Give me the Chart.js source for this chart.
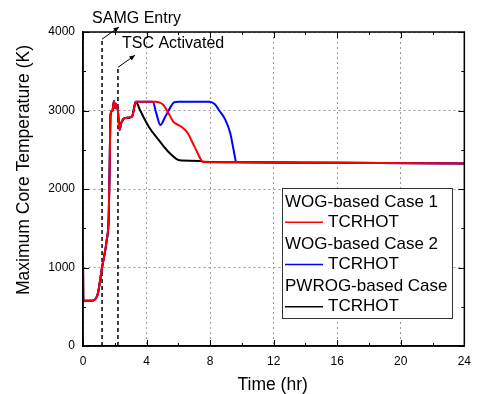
<!DOCTYPE html>
<html>
<head>
<meta charset="utf-8">
<script src="https://cdn.jsdelivr.net/npm/chart.js@4"></script>
<style>
html,body{margin:0;padding:0;background:#fff;}
#wrap{width:479px;height:394px;position:relative;}
</style>
</head>
<body>
<div id="wrap"><canvas id="c" width="479" height="394"></canvas></div>
<script>
// ---- data ----
const earlyTime = [0, 0.02, 0.55, 0.9, 1.2, 1.5, 1.62, 1.68, 1.72, 1.78, 1.85, 1.95, 2.03, 2.09, 2.19, 2.3, 2.4, 2.54, 2.7, 2.91, 3.11, 3.32];
const earlyTemp = [1100, 577, 577, 641, 1000, 1360, 1650, 2300, 2900, 2990, 2994, 3121, 3028, 3079, 3007, 2752, 2837, 2892, 2905, 2909, 2934, 3112];

const case1Time = [4.0, 4.6, 4.76, 5.06, 5.4, 5.68, 6.0, 6.19, 6.6, 6.91, 7.22, 7.46, 7.6, 10, 16, 24];
const case1Temp = [3112, 3110, 3105, 3070, 2960, 2858, 2815, 2794, 2710, 2582, 2455, 2361, 2345, 2340, 2333, 2325];

const case2Time = [4.39, 4.62, 4.86, 5.2, 5.5, 5.74, 6.0, 7.94, 8.3, 8.55, 8.96, 9.27, 9.48, 9.64, 10, 16, 24];
const case2Temp = [3110, 2960, 2816, 2930, 3040, 3105, 3110, 3110, 3080, 3007, 2880, 2710, 2497, 2348, 2342, 2333, 2325];

const pwrogTime = [3.6, 4.14, 4.76, 5.37, 5.99, 6.2, 7.4, 7.6, 10, 16, 24];
const pwrogTemp = [3000, 2794, 2625, 2475, 2370, 2362, 2358, 2346, 2340, 2333, 2325];

const eventTimes = [1.2, 2.2];
const eventTops = [3910, 3550];
const eventLabels = ['SAMG Entry', 'TSC Activated'];

const legendHeaders = ['WOG-based Case 1', 'WOG-based Case 2', 'PWROG-based Case'];
const legendSeries = ['TCRHOT', 'TCRHOT', 'TCRHOT'];
const seriesColors = ['#ff0000', '#0000ff', '#000000'];

const xTicks = [0, 4, 8, 12, 16, 20, 24];
const yTicks = [0, 1000, 2000, 3000, 4000];
const xTitle = 'Time (hr)';
const yTitle = 'Maximum Core Temperature (K)';

function pts(t, v) { return t.map((x, i) => ({x: x, y: v[i]})); }
const redPts = pts(earlyTime.concat(case1Time), earlyTemp.concat(case1Temp));
const bluePts = pts(earlyTime.concat(case2Time), earlyTemp.concat(case2Temp));
const blackPts = pts(earlyTime.concat(pwrogTime), earlyTemp.concat(pwrogTemp));

const FONT = 'Arial, "Liberation Sans", sans-serif';

const framePlugin = {
  id: 'frame',
  afterDraw(chart) {
    const ctx = chart.ctx, a = chart.chartArea;
    const xs = chart.scales.x, ys = chart.scales.y;
    ctx.save();
    ctx.strokeStyle = '#000';
    ctx.lineWidth = 1.5;
    ctx.strokeRect(a.left, a.top, a.right - a.left, a.bottom - a.top);
    ctx.lineWidth = 1;
    ctx.beginPath();
    for (let v = 0; v <= 24; v += 2) {
      const p = Math.round(xs.getPixelForValue(v)) + 0.5;
      const L = (v % 4 === 0) ? 6 : 3;
      ctx.moveTo(p, a.bottom); ctx.lineTo(p, a.bottom - L);
      ctx.moveTo(p, a.top); ctx.lineTo(p, a.top + L);
    }
    for (let v = 0; v <= 4000; v += 500) {
      const p = Math.round(ys.getPixelForValue(v)) + 0.5;
      const L = (v % 1000 === 0) ? 6 : 3;
      ctx.moveTo(a.left, p); ctx.lineTo(a.left + L, p);
      ctx.moveTo(a.right, p); ctx.lineTo(a.right - L, p);
    }
    ctx.stroke();

    // axis titles
    ctx.fillStyle = '#000';
    ctx.font = '17.5px ' + FONT;
    ctx.textAlign = 'center';
    ctx.textBaseline = 'alphabetic';
    ctx.fillText(xTitle, (a.left + a.right) / 2 - 1, 390);
    ctx.save();
    ctx.translate(29, 170);
    ctx.rotate(-Math.PI / 2);
    ctx.fillText(yTitle, 0, 0);
    ctx.restore();

    // event annotations
    ctx.font = '16px ' + FONT;
    ctx.textBaseline = 'middle';
    ctx.textAlign = 'left';
    const txtDx = [-10, 4], txtDy = [-8, -12];
    eventTimes.forEach((t, i) => {
      const x0 = xs.getPixelForValue(t), y0 = ys.getPixelForValue(eventTops[i]);
      const x1 = x0 + 17, y1 = y0 - 12;
      ctx.beginPath();
      ctx.moveTo(x0, y0); ctx.lineTo(x1, y1);
      ctx.stroke();
      const ang = Math.atan2(y1 - y0, x1 - x0);
      ctx.beginPath();
      ctx.moveTo(x1, y1);
      ctx.lineTo(x1 - 6 * Math.cos(ang - 0.4), y1 - 6 * Math.sin(ang - 0.4));
      ctx.lineTo(x1 - 6 * Math.cos(ang + 0.4), y1 - 6 * Math.sin(ang + 0.4));
      ctx.closePath();
      ctx.fill();
      ctx.fillText(eventLabels[i], x0 + txtDx[i], y1 + txtDy[i]);
    });

    // legend
    const lx = 282, ly = 188, lw = 170, lh = 130;
    ctx.fillStyle = '#fff';
    ctx.fillRect(lx, ly, lw, lh);
    ctx.strokeStyle = '#333';
    ctx.lineWidth = 1;
    ctx.strokeRect(lx + 0.5, ly + 0.5, lw, lh);
    ctx.font = '17px ' + FONT;
    legendHeaders.forEach((h, i) => {
      const yH = ly + 14 + i * 42.2;
      const yS = yH + 20.3;
      ctx.fillStyle = '#000';
      ctx.fillText(h, lx + 3, yH);
      ctx.strokeStyle = seriesColors[i];
      ctx.lineWidth = 1.5;
      ctx.beginPath();
      ctx.moveTo(lx + 3, yS); ctx.lineTo(lx + 41, yS);
      ctx.stroke();
      ctx.fillText(legendSeries[i], lx + 46, yS);
    });
    ctx.restore();
  }
};

const lineBase = {borderWidth: 2, pointRadius: 0, cubicInterpolationMode: 'monotone', fill: false};

new Chart(document.getElementById('c'), {
  type: 'line',
  data: {
    datasets: [
      Object.assign({label: 'Case 1', data: redPts, borderColor: seriesColors[0], order: 0}, lineBase),
      Object.assign({label: 'Case 2', data: bluePts, borderColor: seriesColors[1], order: 1}, lineBase),
      Object.assign({label: 'PWROG', data: blackPts, borderColor: seriesColors[2], order: 2}, lineBase),
      {label: 'SAMG', data: [{x: eventTimes[0], y: 0}, {x: eventTimes[0], y: eventTops[0]}], borderColor: '#000', borderWidth: 1.5, borderDash: [4, 3], pointRadius: 0, tension: 0, order: 3},
      {label: 'TSC', data: [{x: eventTimes[1], y: 0}, {x: eventTimes[1], y: eventTops[1]}], borderColor: '#000', borderWidth: 1.5, borderDash: [4, 3], pointRadius: 0, tension: 0, order: 4}
    ]
  },
  options: {
    responsive: false,
    animation: false,
    layout: {padding: {left: 0, right: 6, top: 32, bottom: 0}},
    plugins: {legend: {display: false}, tooltip: {enabled: false}},
    scales: {
      x: {
        type: 'linear', min: 0, max: 24,
        afterBuildTicks(s) { s.ticks = xTicks.map(v => ({value: v})); },
        afterFit(s) { s.height = 48; },
        ticks: {color: '#000', font: {family: FONT, size: 12}, padding: 8, callback: v => String(v)},
        grid: {color: '#999', lineWidth: 1, drawTicks: false},
        border: {display: true, color: '#000', width: 1.5, dash: [2, 3]}
      },
      y: {
        type: 'linear', min: 0, max: 4000,
        afterBuildTicks(s) { s.ticks = yTicks.map(v => ({value: v})); },
        afterFit(s) { s.width = 83; },
        ticks: {color: '#000', font: {family: FONT, size: 12}, padding: 8, callback: v => String(v)},
        grid: {color: '#999', lineWidth: 1, drawTicks: false},
        border: {display: true, color: '#000', width: 1.5, dash: [2, 3]}
      }
    }
  },
  plugins: [framePlugin]
});
</script>
</body>
</html>
